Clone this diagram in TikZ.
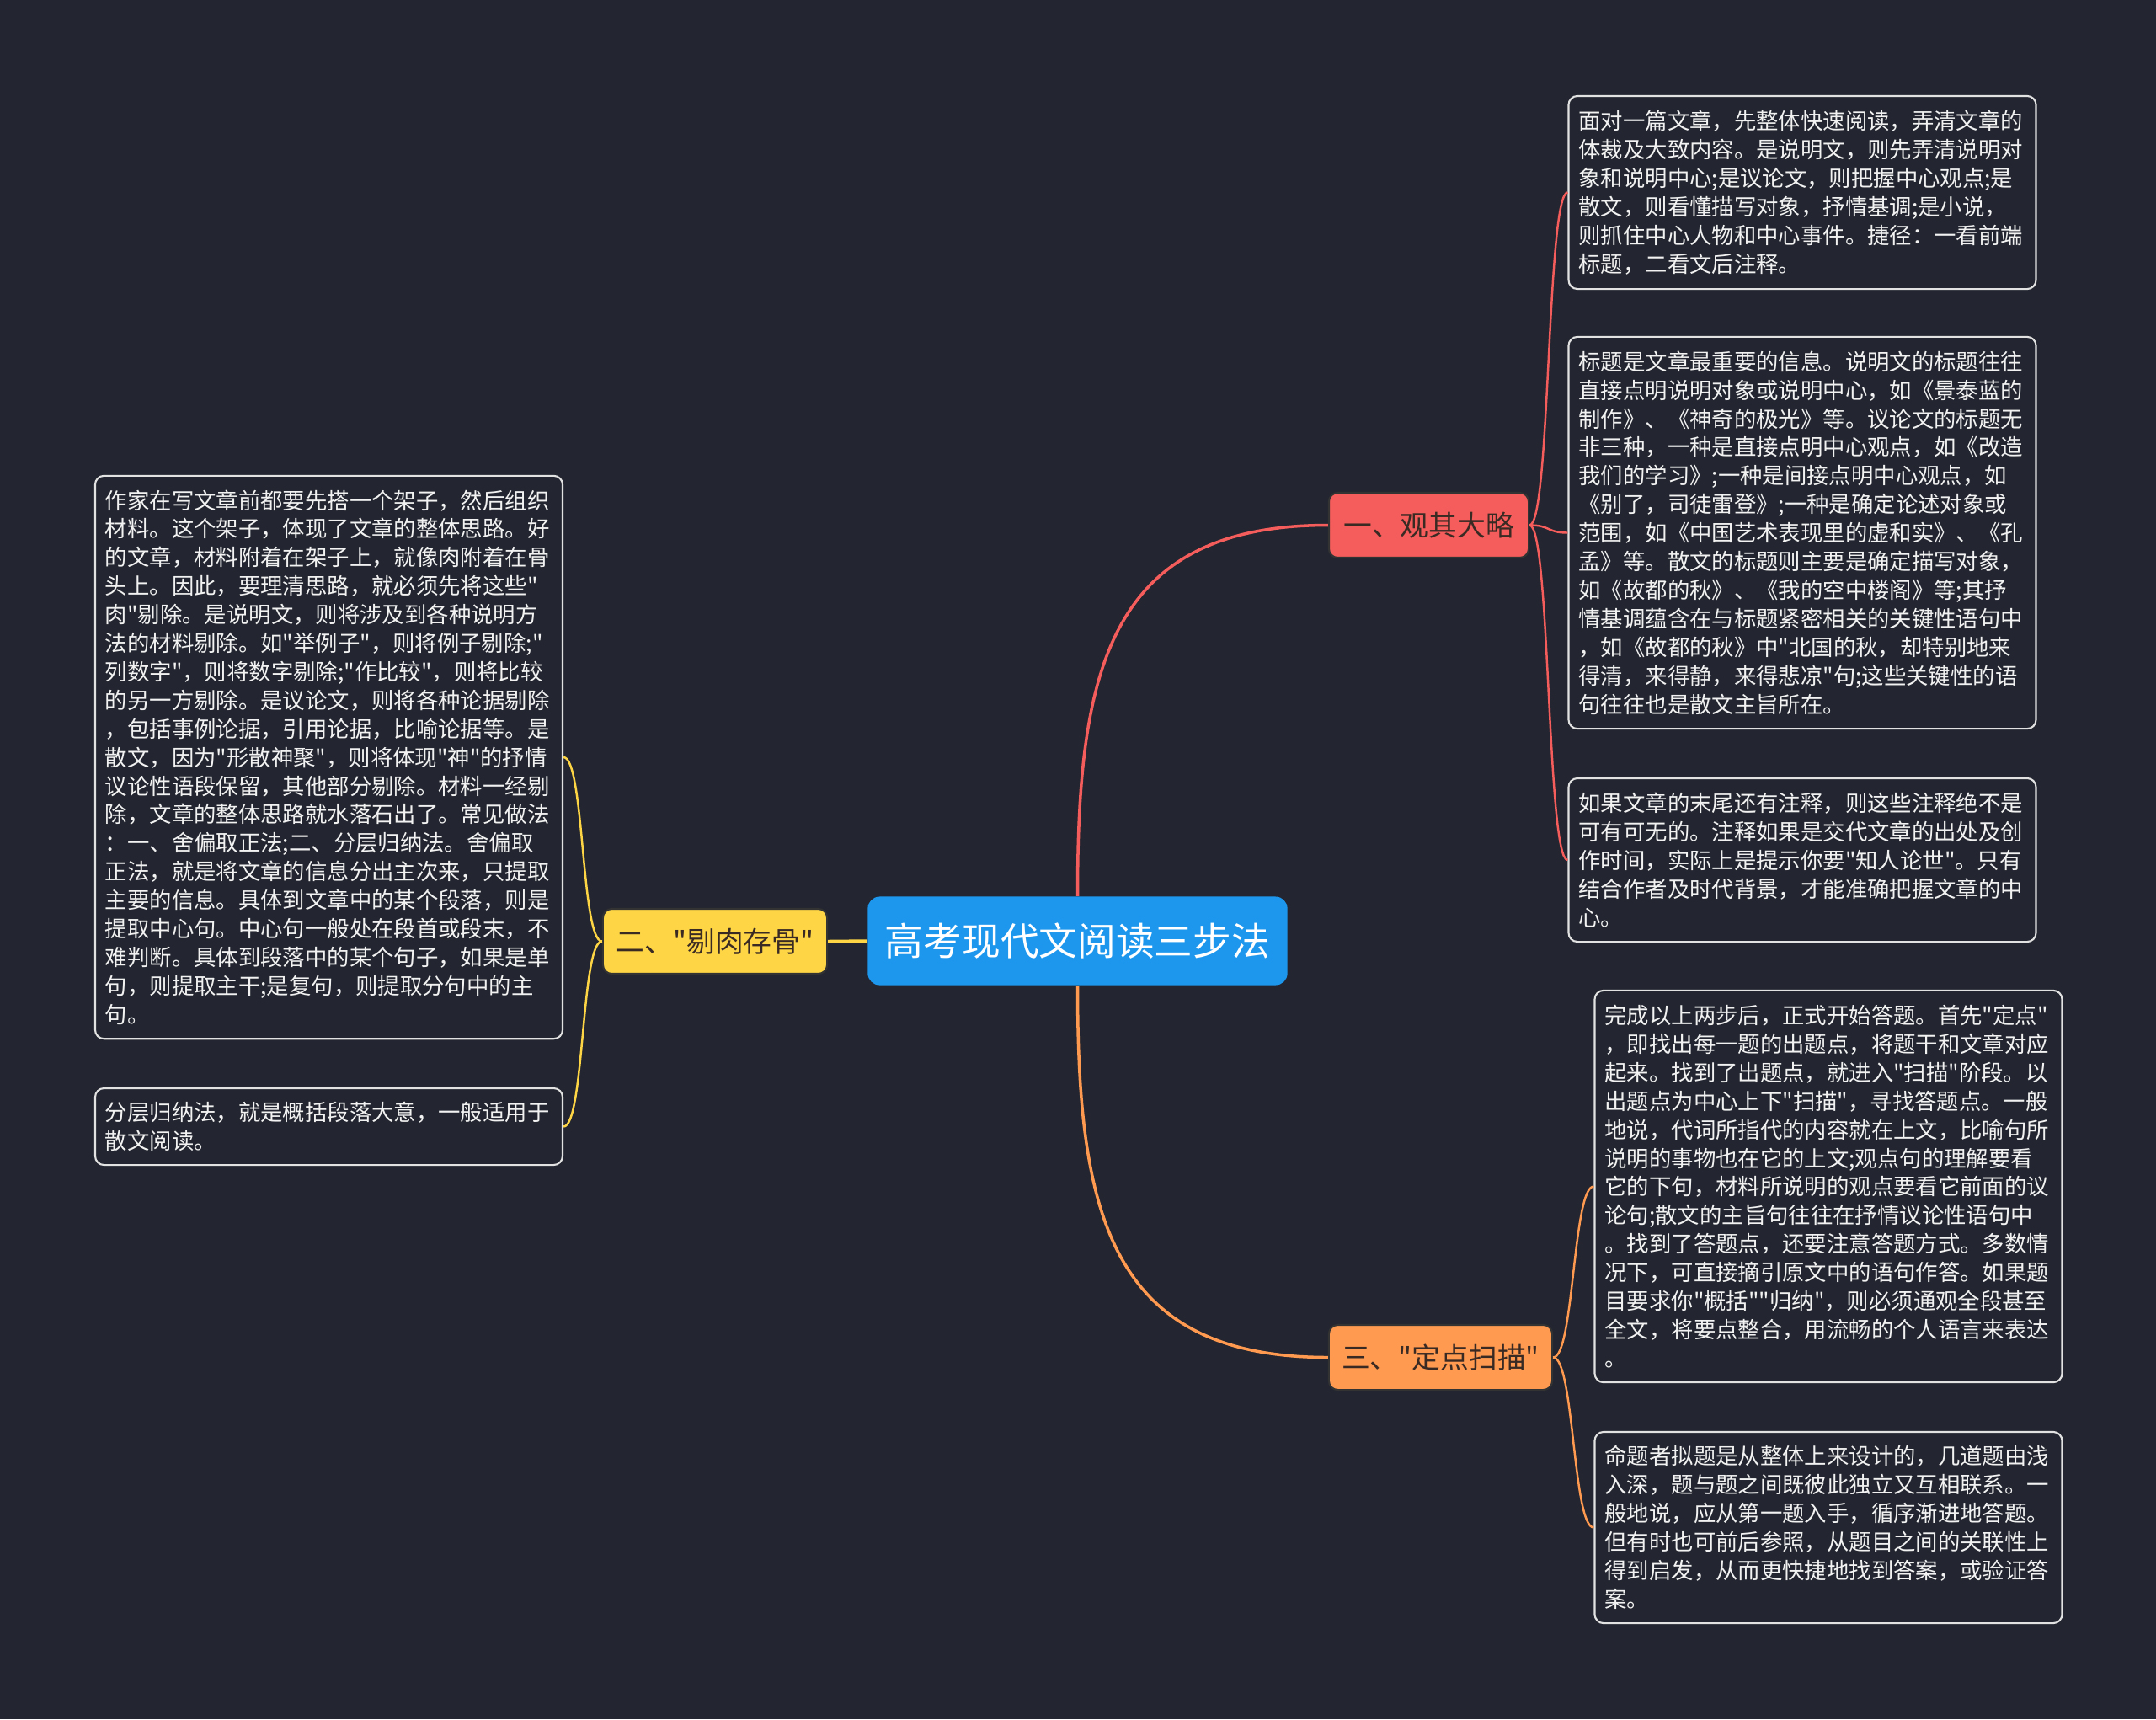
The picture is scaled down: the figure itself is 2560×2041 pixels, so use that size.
\documentclass[tikz,border=0pt]{standalone}
\usepackage{fontspec}
\setmainfont{Noto Sans CJK SC}[Ligatures=TeXOff]
\usetikzlibrary{positioning}
\definecolor{canvas}{HTML}{232630}
\definecolor{rootblue}{HTML}{1D97EE}
\definecolor{onered}{HTML}{F45D5B}
\definecolor{twoyellow}{HTML}{FDD545}
\definecolor{threeorange}{HTML}{FF9A50}
\definecolor{leafline}{HTML}{E2E2E2}
\definecolor{leaftext}{HTML}{F2F2F2}
\definecolor{branchtext}{HTML}{3A2A24}

\begin{document}
\begin{tikzpicture}[
    x=0.01cm, y=-0.01cm,
    every node/.style={inner sep=0pt},
    root/.style={fill=rootblue, rounded corners=4pt, minimum width=4.98cm, minimum height=1.05cm, text=white, font=\fontsize{13}{16}\selectfont},
    branch/.style={draw=black!80, line width=0.6pt, rounded corners=3pt, minimum height=0.77cm, text=branchtext, font=\fontsize{9.6}{12}\selectfont},
    leaf/.style={draw=leafline, line width=0.6pt, fill=canvas, rounded corners=3pt, text width=151pt, inner xsep=0.12cm, align=left, text=leaftext, font=\fontsize{7.5}{9.64}\selectfont},
    trunk/.style={line width=1pt},
    twig/.style={line width=0.7pt}
]

% Canvas
\fill[canvas] (0,0) rectangle (2560,2041);
\useasboundingbox (0,0) rectangle (2560,2041);

% Root node
\node[root] (root) at (1279.5,1117) {高考现代文阅读三步法};

% Branch nodes
\node[branch, fill=onered, minimum width=2.37cm] (b1) at (1696.5,623.5) {一、观其大略};
\node[branch, fill=twoyellow, minimum width=2.66cm] (b2) at (849,1117.5) {二、"剔肉存骨"};
\node[branch, fill=threeorange, minimum width=2.65cm] (b3) at (1710.5,1611.5) {三、"定点扫描"};

% Leaves of branch one
\node[leaf, minimum height=2.29cm] (r1) at (2140,228.5) {%
面对一篇文章，先整体快速阅读，弄清文章的\\
体裁及大致内容。是说明文，则先弄清说明对\\
象和说明中心;是议论文，则把握中心观点;是\\
散文，则看懂描写对象，抒情基调;是小说，\\
则抓住中心人物和中心事件。捷径：一看前端\\
标题，二看文后注释。};

\node[leaf, minimum height=4.65cm] (r2) at (2140,632.5) {%
标题是文章最重要的信息。说明文的标题往往\\
直接点明说明对象或说明中心，如《景泰蓝的\\
制作》、《神奇的极光》等。议论文的标题无\\
非三种，一种是直接点明中心观点，如《改造\\
我们的学习》;一种是间接点明中心观点，如\\
《别了，司徒雷登》;一种是确定论述对象或\\
范围，如《中国艺术表现里的虚和实》、《孔\\
孟》等。散文的标题则主要是确定描写对象，\\
如《故都的秋》、《我的空中楼阁》等;其抒\\
情基调蕴含在与标题紧密相关的关键性语句中\\
，如《故都的秋》中"北国的秋，却特别地来\\
得清，来得静，来得悲凉"句;这些关键性的语\\
句往往也是散文主旨所在。};

\node[leaf, minimum height=1.94cm] (r3) at (2140,1021) {%
如果文章的末尾还有注释，则这些注释绝不是\\
可有可无的。注释如果是交代文章的出处及创\\
作时间，实际上是提示你要"知人论世"。只有\\
结合作者及时代背景，才能准确把握文章的中\\
心。};

% Leaves of branch two
\node[leaf, minimum height=6.68cm] (l1) at (390.5,899) {%
作家在写文章前都要先搭一个架子，然后组织\\
材料。这个架子，体现了文章的整体思路。好\\
的文章，材料附着在架子上，就像肉附着在骨\\
头上。因此，要理清思路，就必须先将这些"\\
肉"剔除。是说明文，则将涉及到各种说明方\\
法的材料剔除。如"举例子"，则将例子剔除;"\\
列数字"，则将数字剔除;"作比较"，则将比较\\
的另一方剔除。是议论文，则将各种论据剔除\\
，包括事例论据，引用论据，比喻论据等。是\\
散文，因为"形散神聚"，则将体现"神"的抒情\\
议论性语段保留，其他部分剔除。材料一经剔\\
除，文章的整体思路就水落石出了。常见做法\\
：一、舍偏取正法;二、分层归纳法。舍偏取\\
正法，就是将文章的信息分出主次来，只提取\\
主要的信息。具体到文章中的某个段落，则是\\
提取中心句。中心句一般处在段首或段末，不\\
难判断。具体到段落中的某个句子，如果是单\\
句，则提取主干;是复句，则提取分句中的主\\
句。};

\node[leaf, minimum height=0.91cm] (l2) at (390.5,1337.5) {%
分层归纳法，就是概括段落大意，一般适用于\\
散文阅读。};

% Leaves of branch three
\node[leaf, minimum height=4.65cm] (r4) at (2171,1408.5) {%
完成以上两步后，正式开始答题。首先"定点"\\
，即找出每一题的出题点，将题干和文章对应\\
起来。找到了出题点，就进入"扫描"阶段。以\\
出题点为中心上下"扫描"，寻找答题点。一般\\
地说，代词所指代的内容就在上文，比喻句所\\
说明的事物也在它的上文;观点句的理解要看\\
它的下句，材料所说明的观点要看它前面的议\\
论句;散文的主旨句往往在抒情议论性语句中\\
。找到了答题点，还要注意答题方式。多数情\\
况下，可直接摘引原文中的语句作答。如果题\\
目要求你"概括""归纳"，则必须通观全段甚至\\
全文，将要点整合，用流畅的个人语言来表达\\
。};

\node[leaf, minimum height=2.27cm] (r5) at (2171,1813.5) {%
命题者拟题是从整体上来设计的，几道题由浅\\
入深，题与题之间既彼此独立又互相联系。一\\
般地说，应从第一题入手，循序渐进地答题。\\
但有时也可前后参照，从题目之间的关联性上\\
得到启发，从而更快捷地找到答案，或验证答\\
案。};

% Trunk lines
\draw[trunk, onered] (root.north) .. controls +(0,-270) and +(-260,0) .. (b1.west);
\draw[trunk, twoyellow] (root.west) -- (b2.east);
\draw[trunk, threeorange] (root.south) .. controls +(0,270) and +(-260,0) .. (b3.west);

% Twigs
\draw[twig, onered] (b1.east) .. controls +(25,0) and +(-25,0) .. (r1.west);
\draw[twig, onered] (b1.east) .. controls +(25,0) and +(-25,0) .. (r2.west);
\draw[twig, onered] (b1.east) .. controls +(25,0) and +(-25,0) .. (r3.west);
\draw[twig, twoyellow] (b2.west) .. controls +(-25,0) and +(25,0) .. (l1.east);
\draw[twig, twoyellow] (b2.west) .. controls +(-25,0) and +(25,0) .. (l2.east);
\draw[twig, threeorange] (b3.east) .. controls +(25,0) and +(-25,0) .. (r4.west);
\draw[twig, threeorange] (b3.east) .. controls +(25,0) and +(-25,0) .. (r5.west);

\end{tikzpicture}
\end{document}
